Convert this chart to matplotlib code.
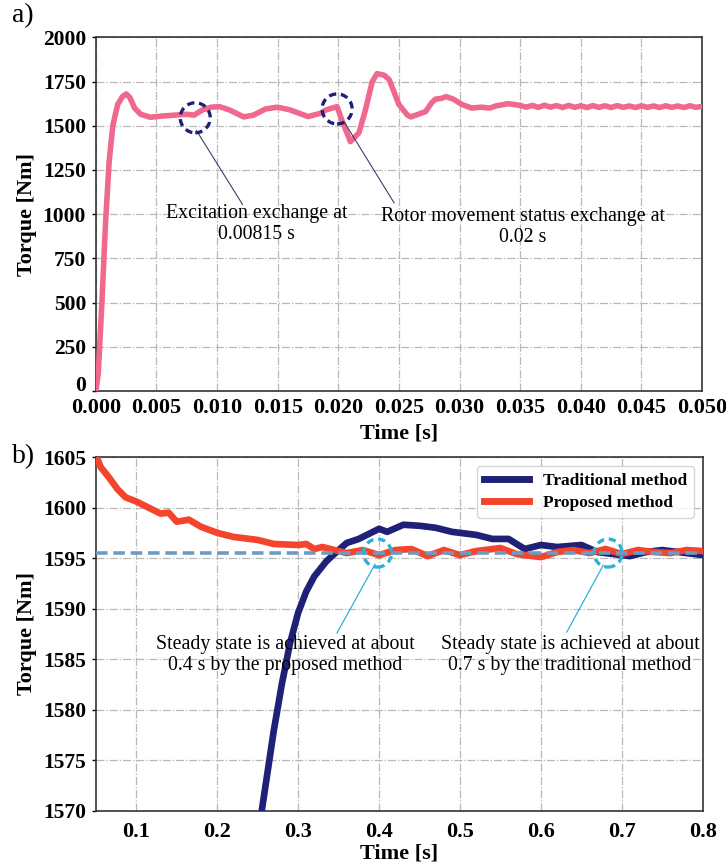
import matplotlib
matplotlib.use("Agg")
import matplotlib.pyplot as plt
from matplotlib.patches import Ellipse
from matplotlib.transforms import ScaledTranslation
import numpy as np

plt.rcParams['font.family'] = ['Liberation Serif', 'DejaVu Serif']

# ---------------- data: panel a ----------------
t_a = [0.0, 0.0002, 0.0005, 0.0008, 0.0011, 0.0014, 0.0018, 0.0022, 0.0025, 0.0028,
       0.0032, 0.0037, 0.0045, 0.0055, 0.0065, 0.0075, 0.0081, 0.0088, 0.0095, 0.0102,
       0.011, 0.0122, 0.013, 0.014, 0.015, 0.016, 0.0175, 0.0185, 0.019, 0.0199,
       0.0203, 0.021, 0.0217, 0.0222, 0.0228, 0.0232, 0.0238, 0.0242, 0.025, 0.0257,
       0.026, 0.0266, 0.0272, 0.0277, 0.028, 0.0285, 0.0289, 0.0295, 0.0302, 0.031,
       0.0318, 0.0325, 0.033, 0.034, 0.035, 0.0355, 0.036, 0.0365, 0.037, 0.0375,
       0.038, 0.0385, 0.039, 0.0395, 0.040, 0.0405, 0.041, 0.0415, 0.042, 0.0425,
       0.043, 0.0435, 0.044, 0.0445, 0.045, 0.0455, 0.046, 0.0465, 0.047, 0.0475,
       0.048, 0.0485, 0.049, 0.0495, 0.050]
torque_a = [0, 100, 500, 950, 1300, 1500, 1620, 1665, 1680, 1660,
            1600, 1565, 1548, 1555, 1560, 1565, 1560, 1590, 1605, 1608,
            1590, 1550, 1560, 1595, 1605, 1590, 1552, 1570, 1590, 1608,
            1530, 1410, 1460, 1580, 1750, 1795, 1785, 1760, 1620, 1560,
            1550, 1565, 1580, 1630, 1650, 1655, 1665, 1650, 1620, 1600,
            1605, 1600, 1612, 1625, 1615, 1605, 1615, 1604, 1616, 1605,
            1614, 1603, 1615, 1604, 1613, 1603, 1614, 1604, 1613, 1603,
            1614, 1604, 1612, 1603, 1613, 1604, 1612, 1603, 1613, 1604,
            1612, 1603, 1613, 1604, 1610]

# ---------------- data: panel b ----------------
t_prop = [0.05, 0.056, 0.066, 0.077, 0.087, 0.1, 0.115, 0.13, 0.14, 0.15,
          0.165, 0.18, 0.2, 0.22, 0.25, 0.27, 0.3, 0.31, 0.32, 0.33,
          0.35, 0.36, 0.38, 0.4, 0.42, 0.44, 0.46, 0.48, 0.5, 0.52,
          0.55, 0.57, 0.6, 0.62, 0.64, 0.66, 0.68, 0.7, 0.72, 0.74,
          0.76, 0.78, 0.8]
torque_prop = [1605.2, 1604.0, 1603.0, 1601.8, 1601.0, 1600.6, 1600.0, 1599.4, 1599.5, 1598.6,
               1598.8, 1598.1, 1597.5, 1597.1, 1596.8, 1596.4, 1596.3, 1596.4, 1595.9, 1596.1,
               1595.7, 1595.5, 1595.8, 1595.3, 1595.8, 1595.9, 1595.2, 1595.8, 1595.3, 1595.7,
               1596.0, 1595.4, 1595.1, 1595.6, 1595.8, 1595.5, 1595.9, 1595.4, 1595.8, 1595.6,
               1595.5, 1595.8, 1595.7]

t_trad = [0.255, 0.27, 0.28, 0.29, 0.3, 0.31, 0.32, 0.335, 0.35, 0.36,
          0.375, 0.39, 0.4, 0.41, 0.43, 0.45, 0.47, 0.49, 0.52, 0.54,
          0.56, 0.58, 0.6, 0.62, 0.65, 0.67, 0.69, 0.71, 0.73, 0.75,
          0.77, 0.8]
torque_trad = [1570.0, 1578.0, 1582.6, 1586.6, 1589.6, 1591.7, 1593.2, 1594.7, 1595.8, 1596.5,
               1596.9, 1597.5, 1597.9, 1597.6, 1598.3, 1598.2, 1598.0, 1597.6, 1597.3, 1596.9,
               1596.9, 1595.9, 1596.3, 1596.1, 1596.3, 1595.6, 1595.4, 1595.2, 1595.6, 1595.8,
               1595.6, 1595.3]

steady_value = 1595.5

xticks_a = [0.000, 0.005, 0.010, 0.015, 0.020, 0.025, 0.030, 0.035, 0.040, 0.045, 0.050]
yticks_a = [0, 250, 500, 750, 1000, 1250, 1500, 1750, 2000]
xticks_b = [0.1, 0.2, 0.3, 0.4, 0.5, 0.6, 0.7, 0.8]
yticks_b = [1570, 1575, 1580, 1585, 1590, 1595, 1600, 1605]

PINK = '#f0688e'
NAVY = '#1f2178'
RED = '#f5442c'
DASH = '#6b9cc6'
CYAN = '#2fb0da'
GRIDC = '#b8b8b8'

fig = plt.figure(figsize=(7.26, 8.68), dpi=100)
ax1 = fig.add_axes([0.132, 0.5495, 0.835, 0.4075])
ax2 = fig.add_axes([0.132, 0.0657, 0.836, 0.4078])

xtick_fs = 16
ytick_fs = 15.5
label_fs = 16
ann_fs = 14.3

def style(ax, xpad):
    ax.grid(True, linestyle='-.', color=GRIDC, linewidth=0.9)
    ax.set_axisbelow(True)
    for s in ax.spines.values():
        s.set_linewidth(1.2)
        s.set_color('#333333')
    ax.tick_params(axis='x', labelsize=xtick_fs, length=0, pad=xpad)
    ax.tick_params(axis='y', labelsize=ytick_fs, length=3, width=1, pad=4)
    for lab in ax.get_xticklabels() + ax.get_yticklabels():
        lab.set_fontweight('bold')

def circle(ax, x, y, r_px, color):
    # build an ellipse that appears circular in pixels
    p = ax.transData.transform((x, y))
    p2 = ax.transData.inverted().transform((p[0] + r_px, p[1] + r_px))
    w = 2 * (p2[0] - x)
    h = 2 * (p2[1] - y)
    e = Ellipse((x, y), w, h, fill=False, edgecolor=color, linestyle=(0, (2.2, 1.4)),
                linewidth=2.4, zorder=6)
    ax.add_patch(e)

# ---------------- panel a ----------------
ax1.plot(t_a, torque_a, color=PINK, linewidth=4.0, zorder=3, solid_capstyle='round',
         solid_joinstyle='round')
ax1.set_xlim(0, 0.050)
ax1.set_ylim(0, 2000)
ax1.set_xticks(xticks_a)
ax1.set_xticklabels([f'{v:.3f}' for v in xticks_a])
ax1.set_yticks(yticks_a)
ax1.set_yticklabels([str(v) for v in yticks_a])
ax1.set_xlabel('Time [s]', fontsize=label_fs, fontweight='bold', labelpad=4)
ax1.set_ylabel('Torque [Nm]', fontsize=label_fs, fontweight='bold', labelpad=4)
style(ax1, 5)
# nudge the "0" y tick label up so it does not collide with "0.000"
zero_lab = ax1.yaxis.get_major_ticks()[0].label1
zero_lab.set_transform(zero_lab.get_transform() + ScaledTranslation(0, 5.5 / 72, fig.dpi_scale_trans))
fig.canvas.draw()
circle(ax1, 0.0082, 1545, 15, NAVY)
circle(ax1, 0.0199, 1595, 15, NAVY)
ax1.plot([0.0083, 0.0121], [1473, 1055], color='#3a3f6a', linewidth=0.8, zorder=5)
ax1.plot([0.0205, 0.0246], [1520, 1064], color='#3a3f6a', linewidth=0.8, zorder=5)
ax1.text(0.01326, 945, 'Excitation exchange at\n0.00815 s', ha='center', va='center',
         fontsize=ann_fs, linespacing=1.15, zorder=7)
ax1.text(0.0352, 928, 'Rotor movement status exchange at\n0.02 s', ha='center', va='center',
         fontsize=ann_fs, linespacing=1.15, zorder=7)

# ---------------- panel b ----------------
ax2.plot(t_trad, torque_trad, color=NAVY, linewidth=4.8, label='Traditional method', zorder=3,
         solid_joinstyle='round')
ax2.plot(t_prop, torque_prop, color=RED, linewidth=4.8, label='Proposed method', zorder=4,
         solid_joinstyle='round')
ax2.axhline(steady_value, color=DASH, linewidth=2.6, linestyle=(0, (3.2, 1.6)), zorder=5)
ax2.set_xlim(0.05, 0.8)
ax2.set_ylim(1570, 1605)
ax2.set_xticks(xticks_b)
ax2.set_xticklabels([f'{v:.1f}' for v in xticks_b])
ax2.set_yticks(yticks_b)
ax2.set_yticklabels([str(v) for v in yticks_b])
ax2.set_xlabel('Time [s]', fontsize=label_fs, fontweight='bold', labelpad=1)
ax2.set_ylabel('Torque [Nm]', fontsize=label_fs, fontweight='bold', labelpad=4)
style(ax2, 8)
fig.canvas.draw()
circle(ax2, 0.398, 1595.5, 14, CYAN)
circle(ax2, 0.683, 1595.5, 14, CYAN)
ax2.plot([0.395, 0.348], [1594.4, 1587.6], color=CYAN, linewidth=0.9, zorder=5)
ax2.plot([0.677, 0.632], [1594.3, 1587.7], color=CYAN, linewidth=0.9, zorder=5)
ax2.text(0.284, 1585.4, 'Steady state is achieved at about\n0.4 s by the proposed method',
         ha='center', va='center', fontsize=ann_fs, linespacing=1.15, zorder=7)
ax2.text(0.636, 1585.4, 'Steady state is achieved at about\n0.7 s by the traditional method',
         ha='center', va='center', fontsize=ann_fs, linespacing=1.15, zorder=7)
leg = ax2.legend(loc='upper right', prop={'weight': 'bold', 'size': 12.5}, handlelength=2.6,
                 frameon=True, fancybox=True, borderaxespad=0.5, labelspacing=0.35)
leg.get_frame().set_edgecolor('#cccccc')
for line in leg.get_lines():
    line.set_linewidth(5)

fig.text(0.016, 0.982, 'a)', fontsize=20, va='center', ha='left')
fig.text(0.016, 0.474, 'b)', fontsize=20, va='center', ha='left')

fig.savefig('out.png', dpi=100)
